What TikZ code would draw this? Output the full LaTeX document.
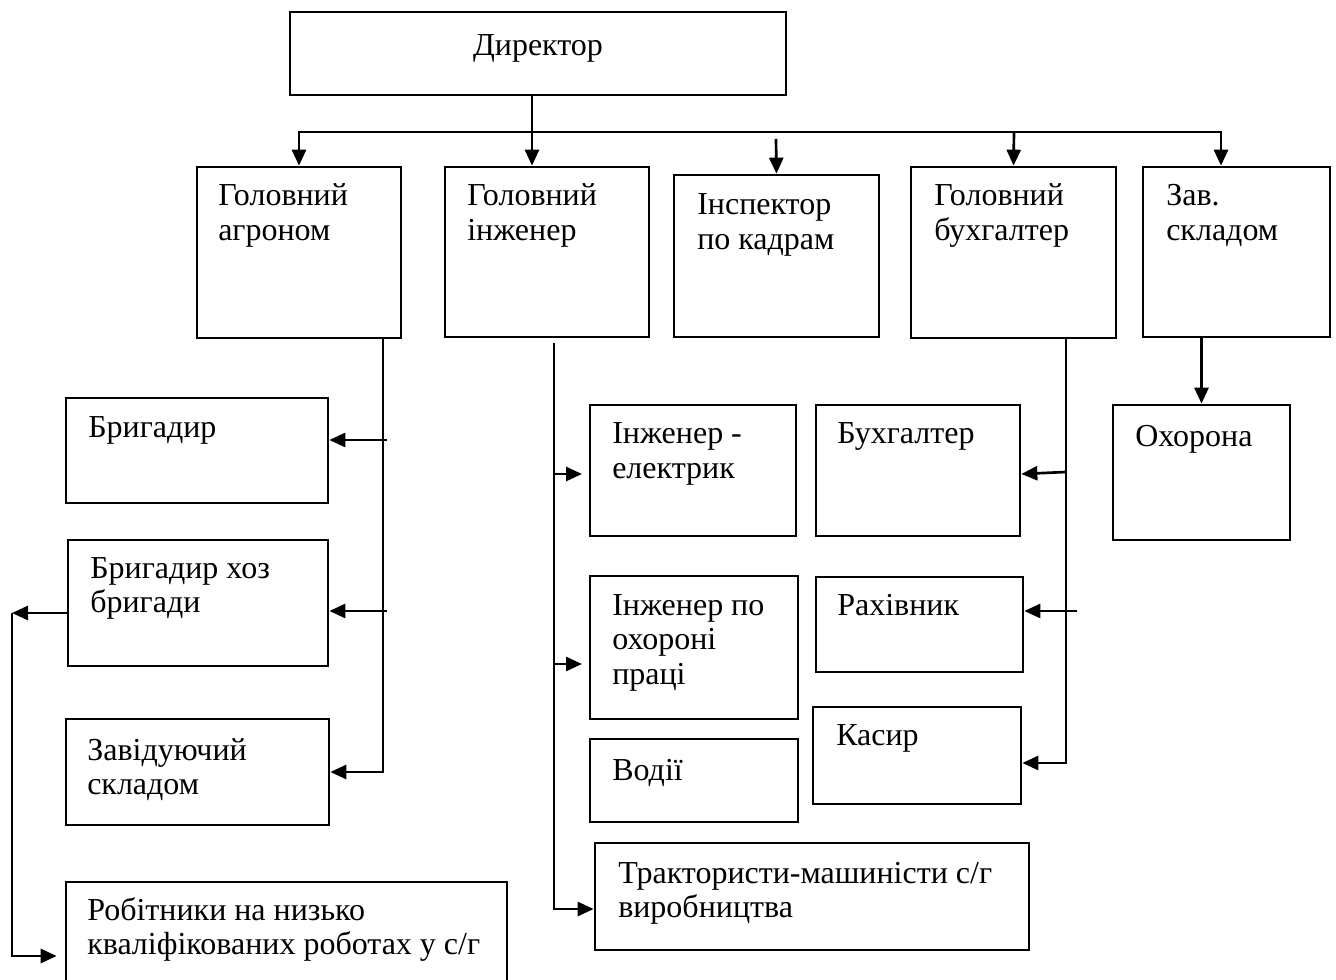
\documentclass[tikz,border=0pt]{standalone}
\usepackage{fontspec}
\setmainfont{Liberation Serif}
\usetikzlibrary{fit,arrows.meta}
\begin{document}
\begin{tikzpicture}[x=0.75pt,y=-0.75pt,
  bx/.style={draw, line width=2pt, inner sep=0pt},
  lbl/.style={inner sep=0pt, anchor=base west, align=flush left, text width=14cm,
    font=\fontsize{24}{26}\selectfont},
  ln/.style={line width=2pt},
  arr/.style={line width=2pt, -{Triangle[length=12pt,width=10.5pt]}}]
\useasboundingbox (0,0) rectangle (1336,980);

% boxes
\node[bx, fit={(290,12) (786,95)}] (dir) {};
\node[bx, fit={(197,167) (401,338)}] (agr) {};
\node[bx, fit={(445,167) (649,337)}] (eng) {};
\node[bx, fit={(674,175) (879,337)}] (insp) {};
\node[bx, fit={(911,167) (1116,338)}] (buh) {};
\node[bx, fit={(1143,167) (1330,337)}] (zav) {};
\node[bx, fit={(1113,405) (1290,540)}] (ohor) {};

\node[bx, fit={(66,398) (328,503)}] (brig) {};
\node[bx, fit={(68,540) (328,666)}] (brh) {};
\node[bx, fit={(66,719) (329,825)}] (zavs) {};
\node[bx, fit={(66,882) (507,995)}] (rob) {};

\node[bx, fit={(590,405) (796,536)}] (iel) {};
\node[bx, fit={(816,405) (1020,536)}] (bg) {};
\node[bx, fit={(590,576) (798,719)}] (iop) {};
\node[bx, fit={(816,577) (1023,672)}] (rah) {};
\node[bx, fit={(590,739) (798,822)}] (vod) {};
\node[bx, fit={(813,707) (1021,804)}] (kas) {};
\node[bx, fit={(595,843) (1029,950)}] (trak) {};

% texts
\node[inner sep=0pt, anchor=base, font=\fontsize{24}{26}\selectfont] (tdir) at (538,56) {Директор};
\node[lbl] (tagr) at (218,206) {Головний\\агроном};
\node[lbl] (teng) at (467,206) {Головний\\інженер};
\node[lbl] (tinsp) at (697,215) {Інспектор\\по кадрам};
\node[lbl] (tbuh) at (934,206) {Головний\\бухгалтер};
\node[lbl] (tzav) at (1166,206) {Зав.\\складом};
\node[lbl] (tohor) at (1135,447) {Охорона};
\node[lbl] (tbrig) at (88,438) {Бригадир};
\node[lbl] (tbrh) at (90,578) {Бригадир хоз\\бригади};
\node[lbl] (tzavs) at (87,760) {Завідуючий\\складом};
\node[lbl] (trob) at (87,920) {Робітники на низько\\кваліфікованих роботах у с/г};
\node[lbl] (tiel) at (612,444) {Інженер -\\електрик};
\node[lbl] (tbg) at (837,444) {Бухгалтер};
\node[lbl] (tiop) at (612,615) {Інженер по\\охороні\\праці};
\node[lbl] (trah) at (837,615) {Рахівник};
\node[lbl] (tvod) at (612,780) {Водії};
\node[lbl] (tkas) at (836,745) {Касир};
\node[lbl] (ttrak) at (618,883) {Трактористи-машиністи с/г\\виробництва};

% junction coordinates
\coordinate (trunk) at (532,132);
\coordinate (busR) at (1221,132);
\coordinate (inspS) at (776,139);
\coordinate (buhB) at (1014,132);
\coordinate (aL) at (383,0);
\coordinate (eL) at (554,343);
\coordinate (bL) at (1066,0);
\coordinate (lL) at (12,613);

% top level
\draw[arr] (dir.south -| trunk) -- (eng.north -| trunk);
\draw[ln, {Triangle[length=12pt,width=10.5pt]}-{Triangle[length=12pt,width=10.5pt]}]
  (agr.north) |- (busR) -- (zav.north -| busR);
\draw[arr] (buhB) -- (buh.north);
\draw[arr] (inspS) -- (insp.north);
\draw[arr] (zav.south -| ohor.north) -- (ohor.north);

% agronom branch
\draw[arr] (agr.south -| aL) |- (zavs.east);
\draw[arr] (387,440) -- (brig.east |- 0,440);
\draw[arr] (387,611) -- (brh.east |- 0,611);
\draw[arr] (brh.west |- lL) -- (lL);
\draw[arr, shorten >=6pt] (lL) |- (rob.west |- 0,956);

% engineer branch
\draw[arr] (eL) |- (trak.west |- 0,909);
\draw[arr, shorten >=5pt] (eL |- 0,474) -- (iel.west |- 0,474);
\draw[arr, shorten >=5pt] (eL |- 0,664) -- (iop.west |- 0,664);

% accountant branch
\draw[arr] (buh.south -| bL) |- (kas.east |- 0,763);
\draw[arr] (bL |- 0,472) -- (bg.east |- 0,474);
\draw[arr] (1077,611) -- (rah.east |- 0,611);
\end{tikzpicture}
\end{document}
